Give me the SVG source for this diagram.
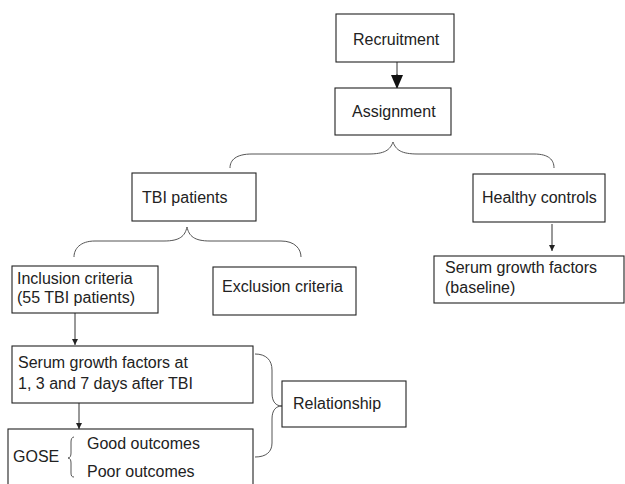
<svg xmlns="http://www.w3.org/2000/svg" width="625" height="484" viewBox="0 0 625 484">
<style>
.box{fill:#fff;stroke:#222;stroke-width:1.1}
.t{font-family:"Liberation Sans",Arial,sans-serif;font-size:16px;fill:#222}
.c{fill:none;stroke:#333;stroke-width:1}
.br{fill:none;stroke:#555;stroke-width:1}
</style>
<defs>
<marker id="big" markerWidth="12" markerHeight="14" refX="6" refY="13" orient="0" markerUnits="userSpaceOnUse" viewBox="0 0 12 14"><path d="M0,0 L12,0 L6,14 Z" fill="#111"/></marker>
<marker id="sm" markerWidth="6" markerHeight="6" refX="3" refY="6" orient="0" markerUnits="userSpaceOnUse" viewBox="0 0 6 6"><path d="M0,0 L6,0 L3,6 Z" fill="#222"/></marker>
</defs>
<g id="connectors">
<line class="c" x1="397" y1="62" x2="397" y2="75" stroke-width="1.4"/>
<line class="c" x1="397" y1="74" x2="397" y2="88" stroke="none" marker-end="url(#big)"/>
<line class="c" x1="552" y1="224" x2="552" y2="251" marker-end="url(#sm)"/>
<line class="c" x1="75" y1="313" x2="75" y2="345" marker-end="url(#sm)"/>
<line class="c" x1="79" y1="403" x2="79" y2="429" marker-end="url(#sm)"/>
<path class="br" d="M230,168 C230,160 236,154 252,154 L368,154 C385,154 390,150 393,142 C396,150 401,154 418,154 L534,154 C549,154 554,160 554,168"/>
<path class="br" d="M74,257 C74,249 80,241 95,241 L164,241 C180,241 185,236 187,227 C189,236 194,241 210,241 L281,241 C295,241 301,249 301,257"/>
<path class="br" d="M255,354 C266,354 272,360 272,370 L272,393 C272,402 276,406 282,406 C276,406 272,410 272,419 L272,443 C272,452 266,457 255,457"/>
</g>
<g id="recruitment"><rect class="box" x="336" y="14" width="118" height="48"/><text class="t" x="353" y="45">Recruitment</text></g>
<g id="assignment"><rect class="box" x="335" y="88" width="116" height="47"/><text class="t" x="352" y="117">Assignment</text></g>
<g id="tbi"><rect class="box" x="132" y="173" width="124" height="48"/><text class="t" x="142" y="203">TBI patients</text></g>
<g id="healthy"><rect class="box" x="473" y="174" width="132" height="48"/><text class="t" x="482" y="203">Healthy controls</text></g>
<g id="baseline"><rect class="box" x="434" y="256" width="190" height="47"/><text class="t" x="445" y="273">Serum growth factors</text><text class="t" x="445" y="293">(baseline)</text></g>
<g id="inclusion"><rect class="box" x="12" y="266" width="146" height="47"/><text class="t" x="17" y="284">Inclusion criteria</text><text class="t" x="17" y="303">(55 TBI patients)</text></g>
<g id="exclusion"><rect class="box" x="213" y="267" width="143" height="48"/><text class="t" x="222" y="292">Exclusion criteria</text></g>
<g id="serum"><rect class="box" x="12" y="346" width="241" height="57"/><text class="t" x="18" y="368">Serum growth factors at</text><text class="t" x="18" y="389">1, 3 and 7 days after TBI</text></g>
<g id="relationship"><rect class="box" x="282" y="381" width="124" height="46"/><text class="t" x="293" y="409">Relationship</text></g>
<g id="gose"><rect class="box" x="8" y="429" width="245" height="70"/><text class="t" x="13" y="462">GOSE</text><path class="br" d="M74,437 C72,437 71,439 71,442 L71,453 C71,456 70,458 68,458 C70,458 71,460 71,463 L71,473 C71,476 72,477 74,477"/><text class="t" x="87" y="449">Good outcomes</text><text class="t" x="87" y="477">Poor outcomes</text></g>
</svg>
